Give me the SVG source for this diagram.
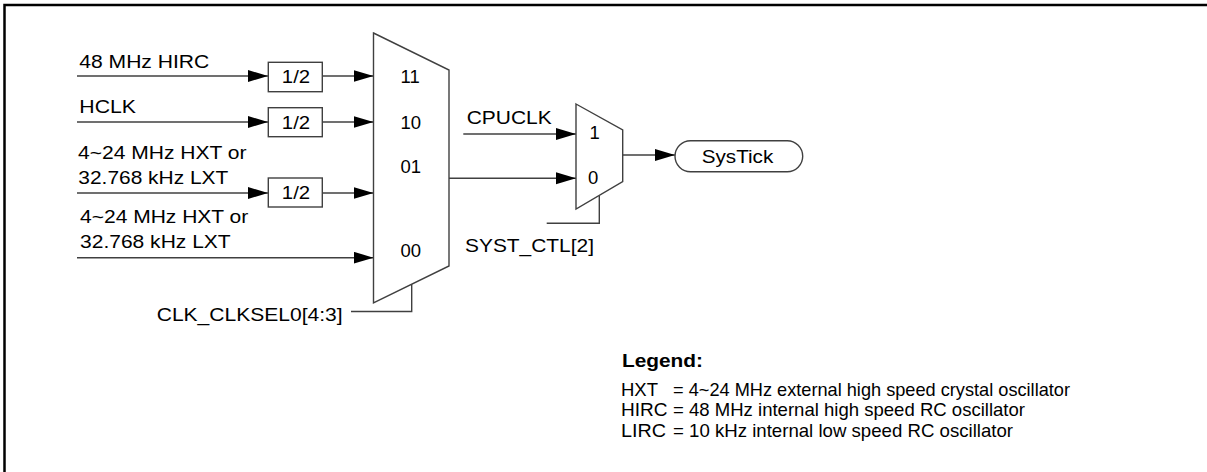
<svg xmlns="http://www.w3.org/2000/svg" width="1207" height="472" viewBox="0 0 1207 472">
<style>
text{font-family:"Liberation Sans",Arial,sans-serif;font-size:18.5px;fill:#000}
.ln{fill:none;stroke:#404040;stroke-width:1.4}
.sh{fill:#fff;stroke:#404040;stroke-width:1.4}
.b{font-weight:bold}
</style>
<defs>
<marker id="ah" markerUnits="userSpaceOnUse" markerWidth="21" markerHeight="13" refX="20" refY="6" orient="auto">
<path d="M0,0 L20,6 L0,12 z" fill="#000"/>
</marker>
</defs>
<rect width="1207" height="472" fill="#fff"/>
<path d="M4.5,472 V5 H1207" fill="none" stroke="#000" stroke-width="2.5"/>

<g id="connectors">
<path class="ln" d="M77,76 H268" marker-end="url(#ah)"/>
<path class="ln" d="M322,76 H373.5" marker-end="url(#ah)"/>
<path class="ln" d="M77,122 H268" marker-end="url(#ah)"/>
<path class="ln" d="M322,122 H373.5" marker-end="url(#ah)"/>
<path class="ln" d="M77,193 H268" marker-end="url(#ah)"/>
<path class="ln" d="M322,193 H373.5" marker-end="url(#ah)"/>
<path class="ln" d="M77,257.7 H373.5" marker-end="url(#ah)"/>
<path class="ln" d="M411.7,284.3 V311.5 H351"/>
<path class="ln" d="M463.3,134 H576" marker-end="url(#ah)"/>
<path class="ln" d="M449,178.3 H576" marker-end="url(#ah)"/>
<path class="ln" d="M599.3,195.4 V223.3 H546.7"/>
<path class="ln" d="M622.7,155 H675" marker-end="url(#ah)"/>
</g>

<g id="labels-in">
<text x="79.3" y="68.3" textLength="130" lengthAdjust="spacingAndGlyphs">48 MHz HIRC</text>
<text x="79.3" y="113.3" textLength="56.7" lengthAdjust="spacingAndGlyphs">HCLK</text>
<text x="78" y="158.7" textLength="168.5" lengthAdjust="spacingAndGlyphs">4~24 MHz HXT or</text>
<text x="78.3" y="184.3" textLength="150" lengthAdjust="spacingAndGlyphs">32.768 kHz LXT</text>
<text x="80" y="222.7" textLength="168.3" lengthAdjust="spacingAndGlyphs">4~24 MHz HXT or</text>
<text x="80" y="248.3" textLength="150.7" lengthAdjust="spacingAndGlyphs">32.768 kHz LXT</text>
</g>

<g id="div1">
<rect class="sh" x="268.3" y="62.3" width="54" height="29.4"/>
<text x="296" y="82.5" text-anchor="middle" textLength="28.3" lengthAdjust="spacingAndGlyphs">1/2</text>
</g>
<g id="div2">
<rect class="sh" x="268.3" y="107.7" width="54" height="29"/>
<text x="296" y="128.5" text-anchor="middle" textLength="28.3" lengthAdjust="spacingAndGlyphs">1/2</text>
</g>
<g id="div3">
<rect class="sh" x="268.3" y="178" width="54" height="29"/>
<text x="296" y="198.8" text-anchor="middle" textLength="28.3" lengthAdjust="spacingAndGlyphs">1/2</text>
</g>

<g id="mux1">
<polygon class="sh" points="373.5,33 449,70 449,266 373.5,303"/>
<text x="400.5" y="83">11</text>
<text x="400.5" y="129.3">10</text>
<text x="400.5" y="173.3">01</text>
<text x="400.5" y="257.3">00</text>
</g>
<g id="sel1">
<text x="156.7" y="320.7" textLength="186" lengthAdjust="spacingAndGlyphs">CLK_CLKSEL0[4:3]</text>
</g>

<g id="mux2">
<polygon class="sh" points="576,104 622.7,130 622.7,181.7 576,209"/>
<text x="589.5" y="139.3">1</text>
<text x="588" y="184.3">0</text>
</g>
<g id="cpuclk">
<text x="466.7" y="124.3" textLength="85" lengthAdjust="spacingAndGlyphs">CPUCLK</text>
</g>
<g id="sel2">
<text x="465" y="251.7" textLength="129" lengthAdjust="spacingAndGlyphs">SYST_CTL[2]</text>
</g>

<g id="systick">
<rect class="sh" x="675" y="140.7" width="127.7" height="31" rx="15.5" ry="15.5"/>
<text x="701.7" y="162.7" textLength="71.6" lengthAdjust="spacingAndGlyphs">SysTick</text>
</g>

<g id="legend">
<text class="b" x="622" y="367" textLength="81" lengthAdjust="spacingAndGlyphs">Legend:</text>
<text x="621" y="395.5" textLength="37" lengthAdjust="spacingAndGlyphs">HXT</text>
<text x="673" y="395.5" textLength="397" lengthAdjust="spacingAndGlyphs">= 4~24 MHz external high speed crystal oscillator</text>
<text x="621" y="416" textLength="46.5" lengthAdjust="spacingAndGlyphs">HIRC</text>
<text x="673" y="416" textLength="352" lengthAdjust="spacingAndGlyphs">= 48 MHz internal high speed RC oscillator</text>
<text x="621" y="436.5" textLength="45" lengthAdjust="spacingAndGlyphs">LIRC</text>
<text x="673" y="436.5" textLength="340" lengthAdjust="spacingAndGlyphs">= 10 kHz internal low speed RC oscillator</text>
</g>
</svg>
